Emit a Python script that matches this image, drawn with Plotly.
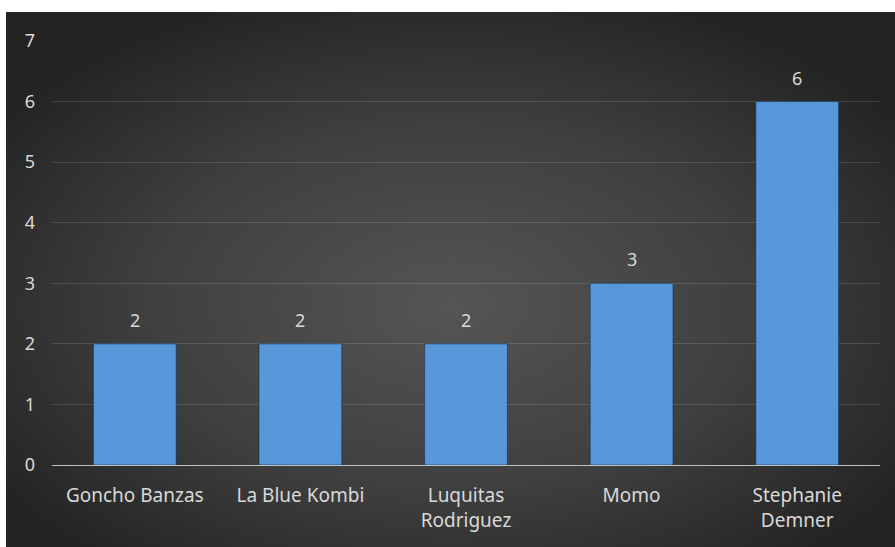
import base64
import plotly.graph_objects as go

# Chart data
names = ["Goncho Banzas", "La Blue Kombi", "Luquitas<br>Rodriguez", "Momo", "Stephanie<br>Demner"]
counts = [2, 2, 2, 3, 6]
y_ticks = [0, 1, 2, 3, 4, 5, 6, 7]

W, H = 895, 547
panel_x0, panel_y0 = 6, 12

# Dark radial-gradient panel behind the plot
svg = (
    "<svg xmlns='http://www.w3.org/2000/svg' width='889' height='535' "
    "viewBox='0 0 889 535' preserveAspectRatio='none'>"
    "<defs><radialGradient id='g' cx='50%' cy='55%' r='62%'>"
    "<stop offset='0' stop-color='#555555'/>"
    "<stop offset='0.55' stop-color='#3f3f3f'/>"
    "<stop offset='1' stop-color='#232323'/>"
    "</radialGradient></defs>"
    "<rect width='889' height='535' fill='url(#g)'/></svg>"
)
bg_src = "data:image/svg+xml;base64," + base64.b64encode(svg.encode()).decode()

label_font = dict(family="Noto Sans, Open Sans, sans-serif", size=19, color="#d9d9d9")
tick_font = dict(family="Noto Sans, Open Sans, sans-serif", size=18, color="#d9d9d9")

fig = go.Figure(
    go.Bar(
        x=names,
        y=counts,
        marker=dict(color="#5798da", line=dict(color="rgba(20,40,70,0.55)", width=1)),
        hoverinfo="skip",
    )
)

# Value labels above each bar
for n, v in zip(names, counts):
    fig.add_annotation(
        x=n, y=v, text=str(v), showarrow=False,
        yanchor="middle", yshift=24, font=tick_font,
    )

fig.update_layout(
    width=W, height=H,
    margin=dict(l=52, r=15, t=41, b=82),
    paper_bgcolor="white",
    plot_bgcolor="rgba(0,0,0,0)",
    bargap=0.5,
    showlegend=False,
    font=label_font,
    images=[dict(
        source=bg_src, xref="paper", yref="paper",
        x=(panel_x0 - 52) / (W - 52 - 15),
        y=1 + (41 - panel_y0) / (H - 41 - 82),
        sizex=(W - panel_x0) / (W - 52 - 15),
        sizey=(H - panel_y0) / (H - 41 - 82),
        xanchor="left", yanchor="top", sizing="stretch", layer="below",
    )],
    xaxis=dict(
        showgrid=False, ticks="", tickfont=label_font,
        showline=False, ticklabelstandoff=17,
    ),
    yaxis=dict(
        range=[0, 7], tickvals=y_ticks, tickfont=tick_font,
        gridcolor="rgba(255,255,255,0.13)", gridwidth=1,
        zeroline=True, zerolinecolor="#c0c0c0", zerolinewidth=1.2,
        ticklabelstandoff=16, showline=False,
    ),
)

fig.write_html("out.html")
